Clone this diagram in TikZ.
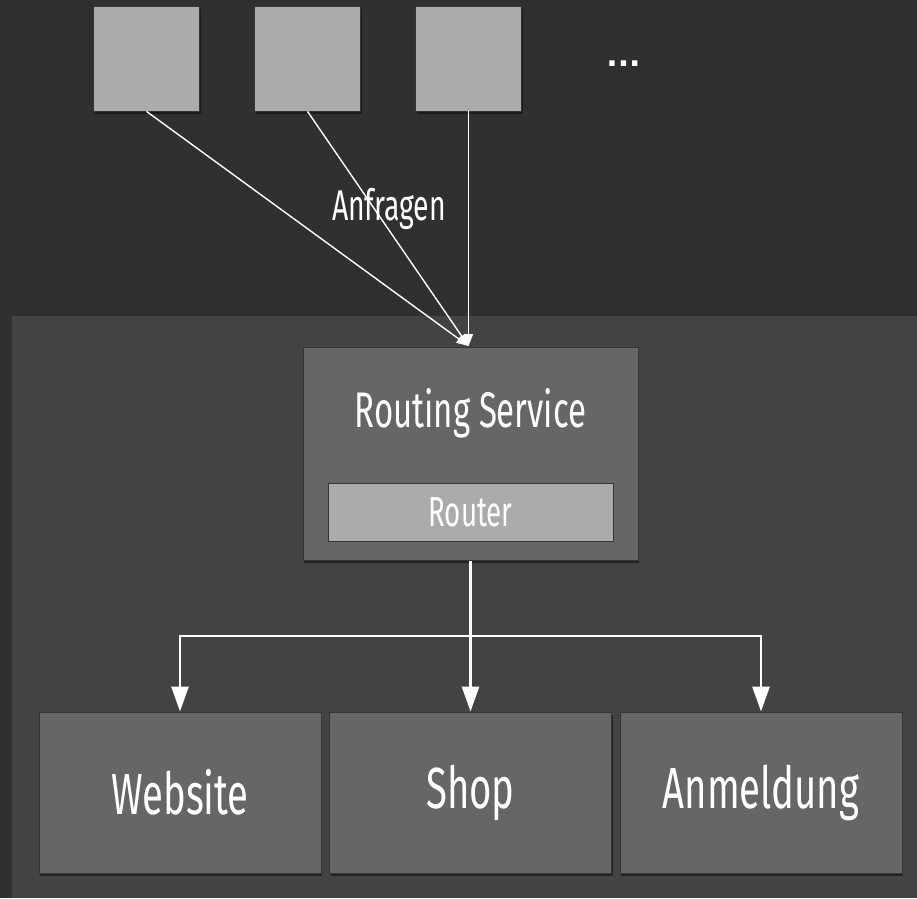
\documentclass[tikz,border=0pt]{standalone}
\usepackage{fontspec}
\setmainfont{Fira Sans}
\newfontfamily\condfont[FakeStretch=0.66]{Fira Sans}
\newfontfamily\dotfont{DejaVu Sans}
\usetikzlibrary{positioning,arrows.meta,shadows}
\definecolor{bgdark}{HTML}{303030}
\definecolor{bgpanel}{HTML}{434343}
\definecolor{boxgray}{HTML}{666666}
\definecolor{clientgray}{HTML}{ABABAB}
\definecolor{edgegray}{HTML}{353535}
\begin{document}
\begin{tikzpicture}[x=1pt, y=-1pt,
    boxshadow/.style={drop shadow={shadow xshift=1pt, shadow yshift=-3pt, opacity=0.45, fill=black}},
    client/.style={draw=edgegray, line width=0.8pt, fill=clientgray, minimum width=106pt, minimum height=105pt, boxshadow},
    service/.style={draw=edgegray, line width=1pt, fill=boxgray, minimum width=282pt, minimum height=161pt, boxshadow,
        text=white, font=\condfont\fontsize{58}{60}\selectfont},
    req/.style={white, line width=1.4pt, -{Triangle[length=12pt, width=9pt]}},
    route/.style={white, line width=2.6pt, -{Triangle[length=25pt, width=17pt]}}]
    \useasboundingbox (0,0) rectangle (917,898);
    \fill[bgdark] (0,0) rectangle (917,898);
    \fill[bgpanel] (12,316) rectangle (917,898);
    % clients
    \node[client] (c1) at (146.5,58.5) {};
    \node[client] (c2) at (307.5,58.5) {};
    \node[client] (c3) at (468.5,58.5) {};
    \node[text=white, font=\dotfont\bfseries\fontsize{30}{30}\selectfont, inner sep=0pt, anchor=base] (more) at (623.5,66) {...};
    % routing service
    \node[service, minimum width=335pt, minimum height=213pt] (rs) at (470.5,453.5) {};
    \node[text=white, font=\condfont\fontsize{50}{52}\selectfont] (rslabel) at (470.5,413) {Routing Service};
    \node[draw=edgegray, line width=1pt, fill=clientgray, minimum width=285pt, minimum height=58pt,
        text=white, font=\condfont\fontsize{42}{44}\selectfont] (router) at (470.5,512) {Router};
    \coordinate (rsin) at (468.5,346);
    \draw[req] (c1.south) -- (rsin);
    \draw[req] (c2.south) -- (rsin);
    \draw[req] (c3.south) -- (rsin);
    \node[text=white, font=\condfont\fontsize{43}{45}\selectfont] (anfr) at (389,209) {Anfragen};
    % services
    \node[service] (web) at (180,792.5) {Website};
    \node[service] (shop) at (470.5,792.5) {Shop};
    \node[service] (login) at (761,792.5) {Anmeldung};
    \coordinate (fork) at (470.5,636);
    \draw[route] (rs.south) -- (shop.north);
    \draw[route] (fork) -| (web.north);
    \draw[route] (fork) -| (login.north);
\end{tikzpicture}
\end{document}
